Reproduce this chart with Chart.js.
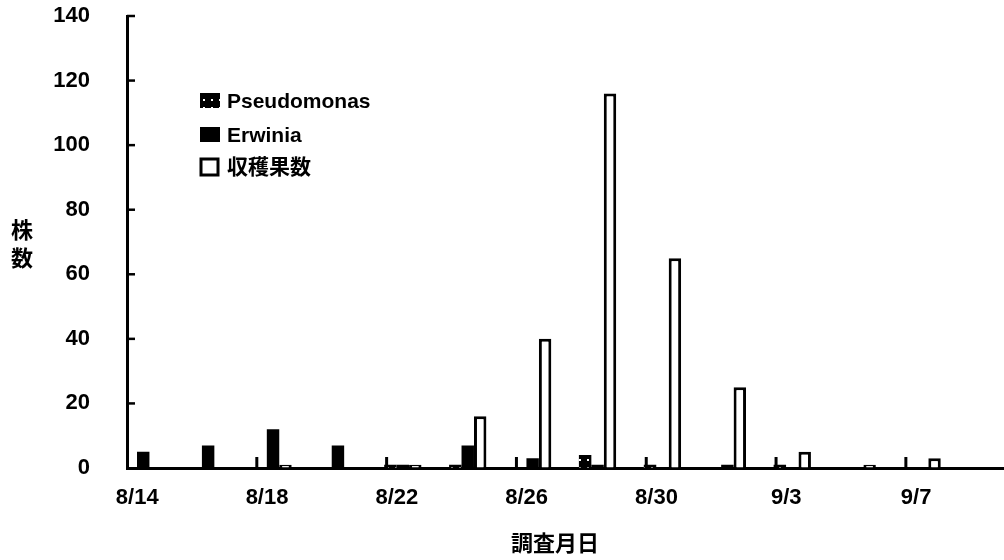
<!DOCTYPE html>
<html>
<head>
<meta charset="utf-8">
<script src="https://cdn.jsdelivr.net/npm/chart.js@4/dist/chart.umd.min.js"></script>
<style>
  html, body { margin: 0; padding: 0; background: #ffffff; }
  canvas { display: block; }
</style>
</head>
<body>
<canvas id="chart" width="1004" height="560"></canvas>
<script>
// Every calendar day on the axis (one slot per day)
const dayAxis = ['8/14','8/15','8/16','8/17','8/18','8/19','8/20','8/21','8/22','8/23',
                 '8/24','8/25','8/26','8/27','8/28','8/29','8/30','8/31','9/1','9/2',
                 '9/3','9/4','9/5','9/6','9/7','9/8','9/9'];
// Labelled ticks, every fourth day
const tickLabels = ['8/14','8/18','8/22','8/26','8/30','9/3','9/7'];
// Survey days and counts
const surveyDates = ['8/14','8/16','8/18','8/20','8/22','8/24','8/26','8/28','8/30','9/1','9/3','9/5','9/7'];
const pseudomonas = [0, 0, 0, 0, 1, 1, 0, 4, 1, 0, 1, 0, 0];
const erwinia     = [5, 7, 12, 7, 1, 7, 3, 1, 0, 1, 0, 0, 0];
const harvest     = [0, 0, 1, 0, 1, 16, 40, 116, 65, 25, 5, 1, 3];

const seriesNames = ['Pseudomonas', 'Erwinia', '収穫果数'];
const yTitle = ['株', '数'];
const xTitle = '調査月日';

const FONT = '"Liberation Sans", "Noto Sans CJK JP", Arial, sans-serif';
Chart.defaults.font.family = FONT;
Chart.defaults.font.weight = 'bold';
Chart.defaults.font.size = 22;
Chart.defaults.color = '#000';

const canvas = document.getElementById('chart');
const ctx = canvas.getContext('2d');

// Black fill sprinkled with small white dots
function dottedFill(c) {
  const tile = document.createElement('canvas');
  tile.width = 8; tile.height = 8;
  const t = tile.getContext('2d');
  t.fillStyle = '#000'; t.fillRect(0, 0, 8, 8);
  t.fillStyle = '#fff'; t.fillRect(3, 3, 2, 2);
  return c.createPattern(tile, 'repeat');
}
const dots = dottedFill(ctx);

// Spread survey values over the daily axis
const onDays = vals => dayAxis.map(d => {
  const k = surveyDates.indexOf(d);
  return k < 0 ? null : vals[k];
});

// Inward tick marks, axis titles and the legend block
const decorations = {
  id: 'decorations',
  afterDraw(chart) {
    const c = chart.ctx;
    const xs = chart.scales.x, ys = chart.scales.y;
    const area = chart.chartArea;
    c.save();
    c.strokeStyle = '#000';
    c.lineCap = 'butt';

    // x ticks sit on day boundaries, pointing up
    c.lineWidth = 3;
    dayAxis.forEach((d, i) => {
      if (i === 0 || !tickLabels.includes(d)) return;
      const x = (xs.getPixelForValue(i - 1) + xs.getPixelForValue(i)) / 2;
      c.beginPath(); c.moveTo(x, area.bottom); c.lineTo(x, area.bottom - 11); c.stroke();
    });
    // y ticks pointing right
    c.lineWidth = 2.5;
    ys.ticks.forEach(t => {
      if (t.value === 0) return;
      const y = ys.getPixelForValue(t.value);
      c.beginPath(); c.moveTo(area.left, y); c.lineTo(area.left + 8, y); c.stroke();
    });

    // axis titles
    c.fillStyle = '#000';
    c.textAlign = 'center';
    c.textBaseline = 'middle';
    c.font = 'bold 22px ' + FONT;
    const midY = (area.top + area.bottom) / 2;
    yTitle.forEach((ch, i) => c.fillText(ch, 22, midY - 10 + i * 28));
    c.fillText(xTitle, (area.left + area.right) / 2 - 10, 545);

    // legend
    const rows = [101, 135, 167];
    const bx = area.left + 73;
    c.textAlign = 'left';
    c.font = 'bold 21px ' + FONT;
    chart.data.datasets.forEach((ds, i) => {
      const y = rows[i];
      if (ds.borderWidth) {
        c.fillStyle = '#fff';
        c.fillRect(bx + 1, y - 8, 17, 16);
        c.lineWidth = 3;
        c.strokeRect(bx + 1, y - 8, 17, 16);
      } else {
        c.fillStyle = ds.backgroundColor;
        c.fillRect(bx, y - 8, 20, 15);
      }
      c.fillStyle = '#000';
      c.fillText(ds.label, bx + 27, y + 1);
    });
    c.restore();
  }
};

new Chart(ctx, {
  type: 'bar',
  data: {
    labels: dayAxis,
    datasets: [
      { label: seriesNames[0], data: onDays(pseudomonas), backgroundColor: dots, borderWidth: 0 },
      { label: seriesNames[1], data: onDays(erwinia), backgroundColor: '#000', borderWidth: 0 },
      { label: seriesNames[2], data: onDays(harvest), backgroundColor: '#fff', borderColor: '#000', borderWidth: 3 }
    ]
  },
  options: {
    responsive: false,
    animation: false,
    devicePixelRatio: 1,
    layout: { padding: { top: 16, right: 0, bottom: 0, left: 0 } },
    datasets: { bar: { categoryPercentage: 1.15, barPercentage: 1 } },
    plugins: { legend: { display: false }, tooltip: { enabled: false } },
    scales: {
      x: {
        z: 1,
        grid: { display: true, drawOnChartArea: false, drawTicks: false },
        border: { display: true, color: '#000', width: 3 },
        ticks: {
          autoSkip: false, maxRotation: 0, minRotation: 0,
          padding: 17, labelOffset: -6,
          callback: (v, i) => tickLabels.includes(dayAxis[i]) ? dayAxis[i] : ''
        },
        afterFit: s => { s.height = 92; s.paddingTop = 0; s.paddingBottom = 0; }
      },
      y: {
        min: 0, max: 140,
        grid: { display: true, drawOnChartArea: false, drawTicks: false },
        border: { display: true, color: '#000', width: 3 },
        ticks: { stepSize: 20, padding: 37 },
        afterFit: s => { s.width = 127; s.paddingTop = 0; s.paddingBottom = 0; }
      }
    }
  },
  plugins: [decorations]
});
</script>
</body>
</html>
